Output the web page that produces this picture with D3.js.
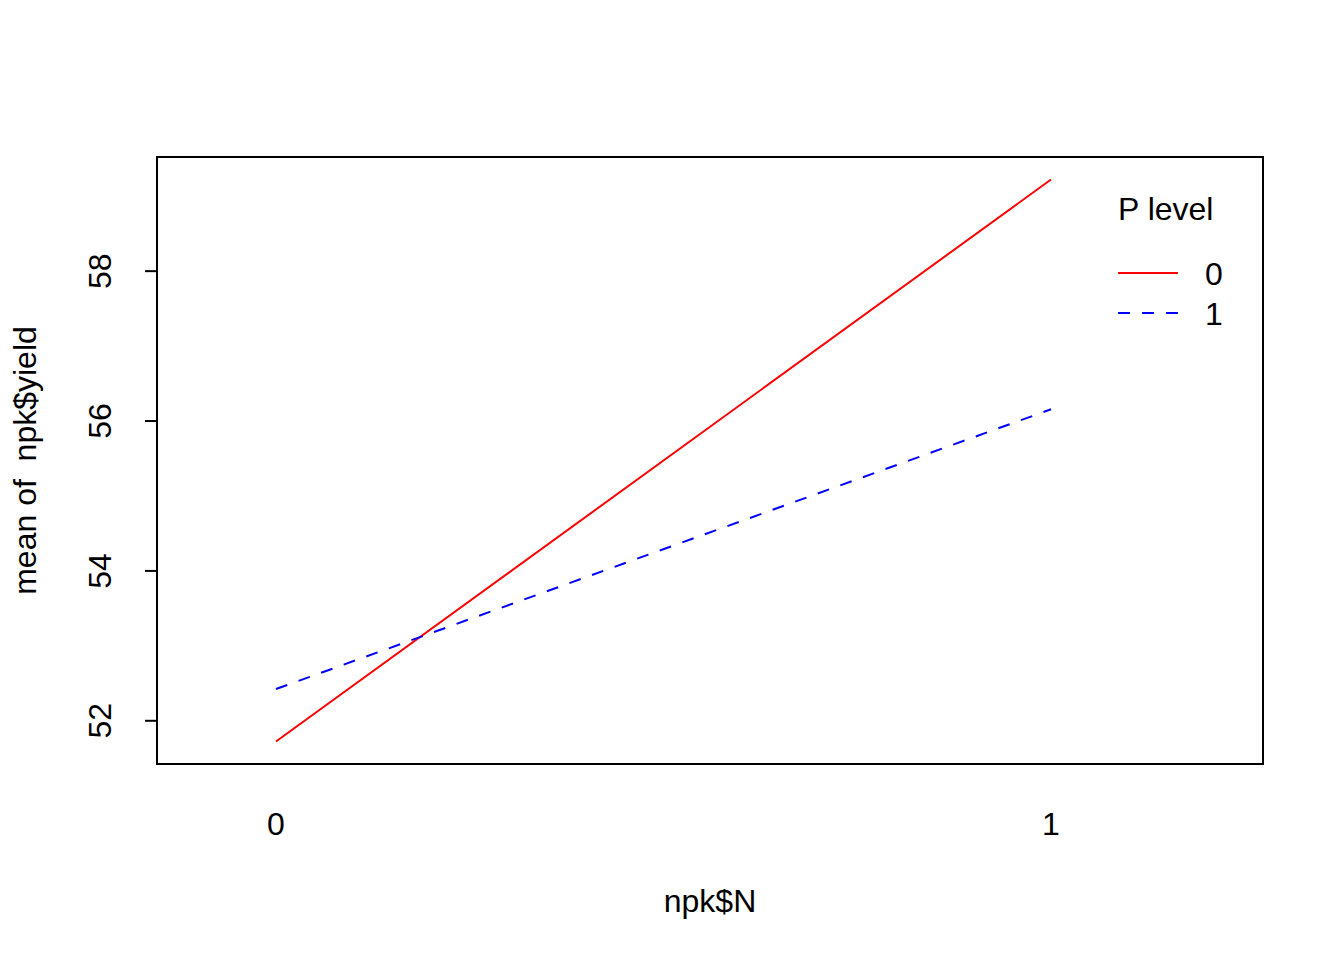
<!DOCTYPE html>
<html lang="en">
<head>
<meta charset="utf-8">
<title>Interaction plot</title>
<script src="https://cdn.jsdelivr.net/npm/d3@7"></script>
<style>
    body { margin: 0; background: #fff; }
    text { font-family: "Liberation Sans", Arial, sans-serif; font-size: 32px; fill: #000; white-space: pre; }
    .axis path, .axis line { stroke: #000; stroke-width: 2; fill: none; }
</style>
</head>
<body>
<div id="chart"></div>
<script>
// data: mean of npk$yield by N level, one series per P level
const N_LEVELS = ["0", "1"];
const P_LEVELS = ["0", "1"];
const P0_MEANS = [51.71667, 59.21667];
const P1_MEANS = [52.41667, 56.15];
const Y_TICKS = [52, 54, 56, 58];
const SERIES_COLOURS = ["#ff0000", "#0000ff"];

const WIDTH = 1344, HEIGHT = 960;
const BOX = {left: 157, right: 1263, top: 157, bottom: 764};

let svg = d3.select("#chart").append("svg")
    .attr("width", WIDTH)
    .attr("height", HEIGHT);

// x positions 0..1 for levels, extra room on the right for the legend
let xScale = d3.scaleLinear()
    .domain([-0.1535, 1.2735])
    .range([BOX.left, BOX.right]);

let yScale = d3.scaleLinear()
    .domain([51.41667, 59.51667])
    .range([BOX.bottom, BOX.top]);

// frame
svg.append("rect")
    .attr("x", BOX.left).attr("y", BOX.top)
    .attr("width", BOX.right - BOX.left)
    .attr("height", BOX.bottom - BOX.top)
    .attr("fill", "none").attr("stroke", "#000").attr("stroke-width", 2);

// y axis
let yAxis = svg.append("g")
    .attr("class", "axis")
    .attr("transform", "translate(" + BOX.left + ",0)")
    .call(d3.axisLeft(yScale).tickValues(Y_TICKS).tickSize(12).tickSizeOuter(0));
yAxis.select(".domain").remove();
yAxis.selectAll("text")
    .attr("x", 0).attr("dy", 0)
    .attr("transform", "translate(-57,0) rotate(-90)")
    .attr("text-anchor", "middle")
    .attr("dominant-baseline", "central")
    .style("font-size", "32px")
    .style("font-family", "Liberation Sans, Arial, sans-serif");

// x labels (no ticks, like interaction.plot)
svg.selectAll(".xlab")
    .data(N_LEVELS)
    .enter().append("text")
    .attr("class", "xlab")
    .attr("x", (d, i) => xScale(i))
    .attr("y", 835)
    .attr("text-anchor", "middle")
    .text(d => d);

// axis titles
svg.append("text")
    .attr("x", (BOX.left + BOX.right) / 2)
    .attr("y", 912)
    .attr("text-anchor", "middle")
    .text("npk$N");

svg.append("text")
    .attr("transform", "translate(36," + ((BOX.top + BOX.bottom) / 2) + ") rotate(-90)")
    .attr("text-anchor", "middle")
    .text("mean of  npk$yield");

// lines
let lineGen = d3.line()
    .x((d, i) => xScale(i))
    .y(d => yScale(d));

let allSeries = [P0_MEANS, P1_MEANS];
allSeries.forEach(function (vals, k) {
    svg.append("path")
        .datum(vals)
        .attr("d", lineGen)
        .attr("fill", "none")
        .attr("stroke", SERIES_COLOURS[k])
        .attr("stroke-width", 2)
        .attr("stroke-dasharray", k == 1 ? "12,12" : null);
});

// legend
let legend = svg.append("g").attr("transform", "translate(1118,0)");
legend.append("text")
    .attr("x", 0).attr("y", 220)
    .text("P level");

let items = legend.selectAll(".item")
    .data(P_LEVELS)
    .enter().append("g")
    .attr("class", "item")
    .attr("transform", (d, i) => "translate(0," + (273 + i * 40) + ")");

items.append("line")
    .attr("x1", 0).attr("x2", 60)
    .attr("y1", 0).attr("y2", 0)
    .attr("stroke", (d, i) => SERIES_COLOURS[i])
    .attr("stroke-width", 2)
    .attr("stroke-dasharray", (d, i) => i == 1 ? "12,12" : null);

items.append("text")
    .attr("x", 87).attr("y", 12)
    .text(d => d);
</script>
</body>
</html>
